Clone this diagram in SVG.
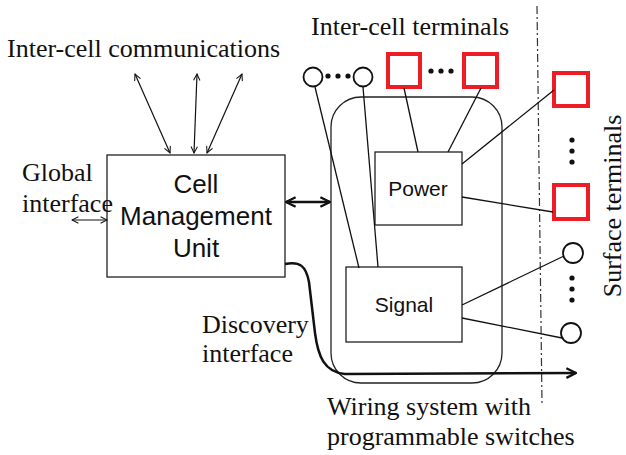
<svg xmlns="http://www.w3.org/2000/svg" width="626" height="455" viewBox="0 0 626 455">
<defs>
<style>
.serif{font-family:"Liberation Serif","Times New Roman",serif;font-size:26px;fill:#111}
.sans{font-family:"Liberation Sans",Arial,sans-serif;fill:#111}
.box{fill:none;stroke:#222;stroke-width:1.3}
.wire{fill:none;stroke:#111;stroke-width:1.3}
.thin{fill:none;stroke:#111;stroke-width:1.2}
.term-c{fill:#fff;stroke:#111;stroke-width:1.8}
.term-s{fill:#fff;stroke:#ee1c25;stroke-width:4}
.dot{fill:#111}
</style>
<marker id="ah" viewBox="0 0 10 10" refX="9" refY="5" markerWidth="8" markerHeight="8" markerUnits="userSpaceOnUse" orient="auto-start-reverse">
<path d="M1,1 L9,5 L1,9" fill="none" stroke="#111" stroke-width="1.3"/>
</marker>
<marker id="ahb" viewBox="0 0 10 10" refX="9" refY="5" markerWidth="12" markerHeight="12" markerUnits="userSpaceOnUse" orient="auto-start-reverse">
<path d="M1,1 L9,5 L1,9" fill="none" stroke="#111" stroke-width="2"/>
</marker>
</defs>
<rect width="626" height="455" fill="#fff"/>

<line x1="537" y1="6" x2="542" y2="403" stroke="#333" stroke-width="1.2" stroke-dasharray="8,3,2,3"/>

<g id="wiring">
<rect x="331" y="97" width="171" height="286" rx="30" ry="30" fill="none" stroke="#222" stroke-width="1.3"/>
</g>

<g id="cmu">
<rect class="box" x="107" y="155" width="178" height="122"/>
<text class="sans" font-size="26" text-anchor="middle" x="196" y="193">Cell</text>
<text class="sans" font-size="26" text-anchor="middle" x="196" y="225">Management</text>
<text class="sans" font-size="26" text-anchor="middle" x="196" y="257">Unit</text>
</g>

<g id="power">
<rect class="box" x="375" y="152" width="87" height="73"/>
<text class="sans" font-size="21" text-anchor="middle" x="418" y="196">Power</text>
</g>

<g id="signal">
<rect class="box" x="346" y="267" width="116" height="75"/>
<text class="sans" font-size="21" text-anchor="middle" x="404" y="312">Signal</text>
</g>

<g id="intercell-terminals">
<circle class="term-c" cx="313" cy="77" r="9.5"/>
<circle class="term-c" cx="363" cy="77" r="9.5"/>
<circle class="dot" cx="328" cy="76" r="2.6"/>
<circle class="dot" cx="338" cy="76" r="2.6"/>
<circle class="dot" cx="348" cy="76" r="2.6"/>
<rect class="term-s" x="388" y="54" width="32" height="33"/>
<rect class="term-s" x="464" y="54" width="33" height="33"/>
<circle class="dot" cx="431" cy="71" r="2.6"/>
<circle class="dot" cx="441" cy="71" r="2.6"/>
<circle class="dot" cx="451" cy="71" r="2.6"/>
</g>

<g id="surface-terminals">
<rect class="term-s" x="554" y="73" width="34" height="33"/>
<rect class="term-s" x="554" y="185" width="34" height="34"/>
<circle class="dot" cx="572" cy="140" r="2.6"/>
<circle class="dot" cx="572" cy="151" r="2.6"/>
<circle class="dot" cx="572" cy="162" r="2.6"/>
<circle class="term-c" cx="573" cy="253" r="10"/>
<circle class="term-c" cx="571" cy="333" r="10"/>
<circle class="dot" cx="572" cy="278" r="2.6"/>
<circle class="dot" cx="572" cy="289" r="2.6"/>
<circle class="dot" cx="572" cy="300" r="2.6"/>
</g>

<g id="connectors">
<line class="thin" x1="135" y1="74" x2="170" y2="153" marker-start="url(#ah)" marker-end="url(#ah)"/>
<line class="thin" x1="197" y1="74" x2="194" y2="153" marker-start="url(#ah)" marker-end="url(#ah)"/>
<line class="thin" x1="242" y1="74" x2="207" y2="153" marker-start="url(#ah)" marker-end="url(#ah)"/>
<line class="thin" x1="72" y1="220" x2="107" y2="220" marker-start="url(#ah)" marker-end="url(#ah)"/>
<line x1="286" y1="202" x2="330" y2="202" stroke="#111" stroke-width="2.5" marker-start="url(#ahb)" marker-end="url(#ahb)"/>
<path d="M285,264 C300,261 306,266 309,282 L315,333 C318,356 324,372 345,374 L576,373" fill="none" stroke="#111" stroke-width="2.5" marker-end="url(#ahb)"/>
<line class="wire" x1="315" y1="87" x2="359" y2="268"/>
<line class="wire" x1="363" y1="87" x2="378" y2="267"/>
<line class="wire" x1="404" y1="88" x2="418" y2="152"/>
<line class="wire" x1="481" y1="88" x2="448" y2="152"/>
<line class="wire" x1="462" y1="164" x2="554" y2="90"/>
<line class="wire" x1="462" y1="197" x2="553" y2="212"/>
<line class="wire" x1="462" y1="305" x2="564" y2="256"/>
<line class="wire" x1="462" y1="318" x2="562" y2="338"/>
</g>

<g id="labels">
<text class="serif" x="7" y="57">Inter-cell communications</text>
<text class="serif" x="311" y="35">Inter-cell terminals</text>
<text class="serif" x="22" y="181">Global</text>
<text class="serif" x="22" y="212">interface</text>
<text class="serif" x="202" y="333">Discovery</text>
<text class="serif" x="202" y="362">interface</text>
<text class="serif" x="327" y="415">Wiring system with</text>
<text class="serif" x="327" y="445">programmable switches</text>
<text class="serif" x="0" y="0" font-size="25" text-anchor="middle" transform="translate(621,206) rotate(-90)">Surface terminals</text>
</g>
</svg>
